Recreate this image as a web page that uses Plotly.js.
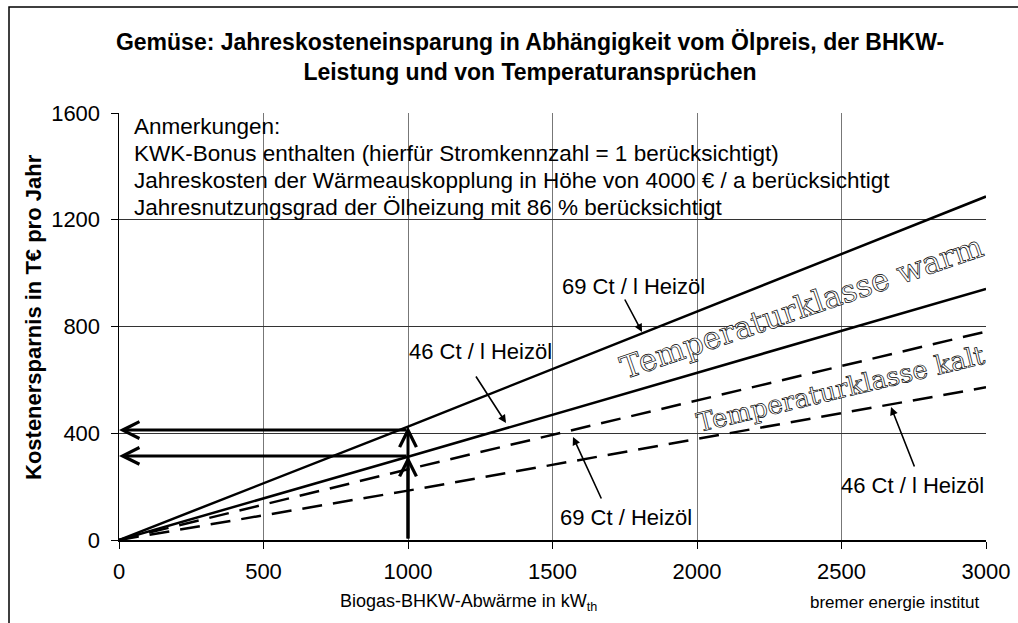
<!DOCTYPE html>
<html>
<head>
<meta charset="utf-8">
<script src="https://cdn.plot.ly/plotly-3.0.1.min.js"></script>
<style>
html,body{margin:0;padding:0;background:#fff;}
#chart{width:1018px;height:623px;}
.annotation[data-index="0"] text, .annotation[data-index="1"] text{
  fill:#ffffff !important; stroke:#000000; stroke-width:0.7px;
}
</style>
</head>
<body>
<div id="chart"></div>
<script>
// Data
const powerKW = [0, 1000, 3000];                 // Biogas-BHKW-Abwärme in kW_th
const warm69 = [0, 425, 1287];                   // Temperaturklasse warm, 69 Ct / l Heizöl
const warm46 = [0, 312, 941];                    // Temperaturklasse warm, 46 Ct / l Heizöl
const kalt69 = [0, 265, 781];                    // Temperaturklasse kalt, 69 Ct / l Heizöl
const kalt46 = [0, 185, 572];                    // Temperaturklasse kalt, 46 Ct / l Heizöl
const readX = [1000, 1000];                      // reading example at 1000 kW
const readTipY = [425, 315];                     // vertical arrow tips
const readLevelY = [412, 315];                   // horizontal reading arrows
const xTicks = [0, 500, 1000, 1500, 2000, 2500, 3000];
const yTicks = [0, 400, 800, 1200, 1600];
const titleLines = ["Gemüse: Jahreskosteneinsparung in Abhängigkeit vom Ölpreis, der BHKW-",
                    "Leistung und von Temperaturansprüchen"];
const notes = ["Anmerkungen:",
  "KWK-Bonus enthalten (hierfür Stromkennzahl = 1 berücksichtigt)",
  "Jahreskosten der Wärmeauskopplung in Höhe von 4000 € / a berücksichtigt",
  "Jahresnutzungsgrad der Ölheizung mit 86 % berücksichtigt"];
const classLabels = ["Temperaturklasse warm", "Temperaturklasse kalt"];
const priceLabels = ["69 Ct / l Heizöl", "46 Ct / l Heizöl", "69 Ct / Heizöl", "46 Ct / l Heizöl"];

const W = 1018, H = 623, L = 119, R = 32, T = 113, B = 83;
const pw = W - L - R, ph = H - T - B;
const px2x = p => (p - L) * 3000 / pw;
const py2y = p => (H - B - p) * 1600 / ph;
const pxp = p => (p - L) / pw;
const pyp = p => (H - B - p) / ph;

const font = "'Liberation Sans', Arial, sans-serif";
const solid = {color: '#000', width: 2.5};
const dashed = {color: '#000', width: 2.5, dash: '20px,11px'};

const traces = [
  {x: powerKW, y: warm69, mode: 'lines', line: solid, name: 'warm 69'},
  {x: powerKW, y: warm46, mode: 'lines', line: solid, name: 'warm 46'},
  {x: powerKW, y: kalt69, mode: 'lines', line: dashed, name: 'kalt 69'},
  {x: powerKW, y: kalt46, mode: 'lines', line: dashed, name: 'kalt 46'}
];

const ann = [];
const C = {xanchor: 'center', yanchor: 'middle', showarrow: false};
// outlined class labels (index 0,1)
ann.push(Object.assign({x: px2x(801), y: py2y(307), xref: 'x', yref: 'y', text: classLabels[0],
  textangle: -19, font: {family: "'DejaVu Serif', serif", size: 31, color: '#000'}}, C));
ann.push(Object.assign({x: px2x(840), y: py2y(389), xref: 'x', yref: 'y', text: classLabels[1],
  textangle: -13.5, font: {family: "'DejaVu Serif', serif", size: 26, color: '#000'}}, C));

// notes
const noteY = [125, 152, 179, 206];
notes.forEach((t, i) => ann.push({x: pxp(132), y: pyp(noteY[i] + 1), xref: 'paper', yref: 'paper',
  xanchor: 'left', yanchor: 'middle', text: t, showarrow: false, font: {family: font, size: 22.5, color: '#000'}}));

// price labels
const labPos = [[633, 286], [480, 351], [626, 517], [912, 485]];
priceLabels.forEach((t, i) => ann.push(Object.assign({x: px2x(labPos[i][0]), y: py2y(labPos[i][1]), xref: 'x', yref: 'y',
  text: t, font: {family: font, size: 22, color: '#000'}}, C)));

// small pointer arrows
const ptr = [[[624, 298], [642, 332]], [[475, 375], [506, 423]], [[602, 500], [573, 437]], [[915, 468], [891, 407]]];
ptr.forEach(p => ann.push({x: px2x(p[1][0]), y: py2y(p[1][1]), ax: px2x(p[0][0]), ay: py2y(p[0][1]),
  xref: 'x', yref: 'y', axref: 'x', ayref: 'y', text: '', showarrow: true,
  arrowhead: 2, arrowsize: 1, arrowwidth: 1.6, arrowcolor: '#000'}));

// reading arrows
readX.forEach((rx, i) => {
  ann.push({x: rx, y: readTipY[i], ax: rx, ay: 0, xref: 'x', yref: 'y', axref: 'x', ayref: 'y', text: '',
    showarrow: true, arrowhead: 5, arrowsize: 1.1, arrowwidth: 3, arrowcolor: '#000'});
  ann.push({x: 0, y: readLevelY[i], ax: rx, ay: readLevelY[i], xref: 'x', yref: 'y', axref: 'x', ayref: 'y', text: '',
    showarrow: true, arrowhead: 5, arrowsize: 1.1, arrowwidth: 3, arrowcolor: '#000'});
});

// axis titles and credit
ann.push(Object.assign({x: pxp(33), y: pyp(317), xref: 'paper', yref: 'paper', text: 'Kostenersparnis in T€ pro Jahr',
  textangle: -90, font: {family: font, size: 22, color: '#000', weight: 'bold'}}, C));
ann.push(Object.assign({x: pxp(468), y: pyp(602), xref: 'paper', yref: 'paper', text: 'Biogas-BHKW-Abwärme in kW<sub>th</sub>',
  font: {family: font, size: 18, color: '#000'}}, C));
ann.push(Object.assign({x: pxp(894), y: pyp(602), xref: 'paper', yref: 'paper', text: 'bremer energie institut',
  font: {family: font, size: 17, color: '#000'}}, C));

const layout = {
  width: W, height: H,
  margin: {l: L, r: R, t: T, b: B, pad: 0},
  paper_bgcolor: '#fff', plot_bgcolor: '#fff',
  showlegend: false,
  title: {text: titleLines.join('<br>'), x: 530 / W, xref: 'container', xanchor: 'center',
    y: 1 - 50 / H, yref: 'container', yanchor: 'middle',
    font: {family: font, size: 23, color: '#000', weight: 'bold'}},
  xaxis: {range: [0, 3000], tickvals: xTicks, ticktext: xTicks.map(String), showgrid: true, gridcolor: '#777', gridwidth: 1,
    zeroline: false, showline: true, linecolor: '#000', linewidth: 1.5, ticks: 'outside', ticklen: 7, tickcolor: '#000',
    tickfont: {family: font, size: 22, color: '#000'}, ticklabelstandoff: 4, fixedrange: true},
  yaxis: {range: [0, 1600], tickvals: yTicks, ticktext: yTicks.map(String), showgrid: true, gridcolor: '#333', gridwidth: 1,
    zeroline: false, showline: true, linecolor: '#000', linewidth: 1.5, ticks: 'outside', ticklen: 7, tickcolor: '#000',
    tickfont: {family: font, size: 22, color: '#000'}, ticklabelstandoff: 6, fixedrange: true},
  annotations: ann,
  shapes: [{type: 'path', xref: 'paper', yref: 'paper',
    path: `M ${pxp(9)},${pyp(640)} L ${pxp(9)},${pyp(7)} L ${pxp(1030)},${pyp(7)}`,
    line: {color: '#000', width: 1.5}}]
};

Plotly.newPlot('chart', traces, layout, {displayModeBar: false, staticPlot: true});
</script>
</body>
</html>
